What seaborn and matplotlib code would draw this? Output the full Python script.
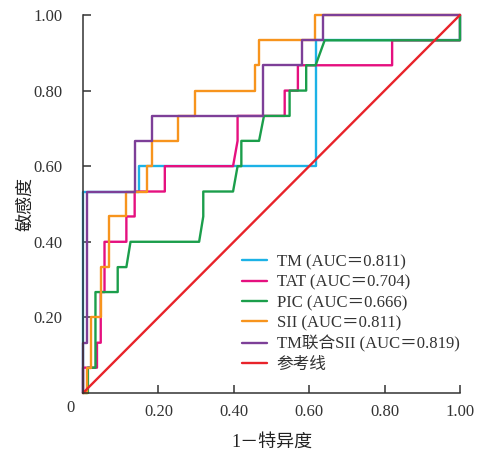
import matplotlib
matplotlib.use("Agg")
import matplotlib.pyplot as plt
import seaborn as sns

# ── Data ─────────────────────────────────────────────────────────────────────
TM_FPR = [0.0, 0.0, 0.149, 0.149, 0.617, 0.617, 1.0, 1.0]
TM_TPR = [0.0, 0.533, 0.533, 0.600, 0.600, 0.933, 0.933, 1.0]

TAT_FPR = [0.0, 0.0, 0.037, 0.037, 0.047, 0.047, 0.057, 0.057, 0.115, 0.115,
           0.137, 0.137, 0.217, 0.217, 0.398, 0.410, 0.410, 0.535, 0.535,
           0.570, 0.570, 0.820, 0.820, 1.0, 1.0]
TAT_TPR = [0.0, 0.067, 0.067, 0.133, 0.133, 0.267, 0.267, 0.400, 0.400, 0.467,
           0.467, 0.533, 0.533, 0.600, 0.600, 0.667, 0.733, 0.733, 0.800,
           0.800, 0.867, 0.867, 0.933, 0.933, 1.0]

PIC_FPR = [0.0, 0.013, 0.013, 0.033, 0.033, 0.092, 0.092, 0.115, 0.126, 0.308,
           0.319, 0.319, 0.398, 0.410, 0.420, 0.420, 0.467, 0.480, 0.548,
           0.548, 0.592, 0.592, 0.617, 0.641, 1.0, 1.0]
PIC_TPR = [0.0, 0.0, 0.067, 0.067, 0.267, 0.267, 0.333, 0.333, 0.400, 0.400,
           0.467, 0.533, 0.533, 0.600, 0.600, 0.667, 0.667, 0.733, 0.733,
           0.800, 0.800, 0.867, 0.867, 0.933, 0.933, 1.0]

SII_FPR = [0.0, 0.011, 0.011, 0.022, 0.022, 0.047, 0.047, 0.069, 0.069, 0.114,
           0.114, 0.170, 0.170, 0.184, 0.184, 0.251, 0.251, 0.297, 0.297,
           0.456, 0.456, 0.467, 0.467, 0.615, 0.615, 1.0]
SII_TPR = [0.0, 0.0, 0.067, 0.067, 0.200, 0.200, 0.333, 0.333, 0.467, 0.467,
           0.533, 0.533, 0.600, 0.600, 0.667, 0.667, 0.733, 0.733, 0.800,
           0.800, 0.867, 0.867, 0.933, 0.933, 1.0, 1.0]

COMB_FPR = [0.0, 0.0, 0.011, 0.011, 0.138, 0.138, 0.184, 0.184, 0.478, 0.478,
            0.581, 0.581, 0.637, 0.637, 1.0]
COMB_TPR = [0.0, 0.133, 0.133, 0.533, 0.533, 0.667, 0.667, 0.733, 0.733, 0.867,
            0.867, 0.933, 0.933, 1.0, 1.0]

REF_X = [0.0, 1.0]
REF_Y = [0.0, 1.0]

LABELS = ["TM (AUC＝0.811)", "TAT (AUC＝0.704)", "PIC (AUC＝0.666)",
          "SII (AUC＝0.811)", "TM联合SII (AUC＝0.819)", "参考线"]
COLORS = ["#1cb2e6", "#e5107f", "#1b9e4b", "#f7941d", "#7d3f98", "#e8232a"]
TICKS = [0.2, 0.4, 0.6, 0.8, 1.0]
TICK_LABELS = ["0.20", "0.40", "0.60", "0.80", "1.00"]

# ── Style ────────────────────────────────────────────────────────────────────
sns.set_theme(style="ticks")
FONTS = ["Liberation Serif", "Noto Sans CJK SC", "DejaVu Sans"]
plt.rcParams["font.family"] = FONTS
plt.rcParams["axes.unicode_minus"] = False

fig = plt.figure(figsize=(4.81, 4.5), dpi=100)
ax = fig.add_axes([0.1726, 0.1267, 0.7837, 0.84])

curves = [(TM_FPR, TM_TPR), (TAT_FPR, TAT_TPR), (PIC_FPR, PIC_TPR),
          (SII_FPR, SII_TPR), (COMB_FPR, COMB_TPR), (REF_X, REF_Y)]
for (xs, ys), lab, col in zip(curves, LABELS, COLORS):
    sns.lineplot(x=xs, y=ys, sort=False, estimator=None, color=col,
                 label=lab, lw=1.7, ax=ax, clip_on=False)

ax.set_xlim(0, 1)
ax.set_ylim(0, 1)
ax.set_xticks(TICKS)
ax.set_xticklabels(TICK_LABELS)
ax.set_yticks(TICKS)
ax.set_yticklabels(TICK_LABELS)
ax.tick_params(axis="both", direction="in", length=6, width=1.1,
               color="#333333", labelsize=12, labelcolor="#333333")
ax.tick_params(axis="x", pad=8)
ax.tick_params(axis="y", pad=15)
for side in ["top", "right"]:
    ax.spines[side].set_visible(False)
for side in ["left", "bottom"]:
    ax.spines[side].set_color("#333333")
    ax.spines[side].set_linewidth(1.1)

ax.text(-0.034, -0.04, "0", transform=ax.transAxes, ha="center", va="center",
        fontsize=12, color="#333333")
ax.set_xlabel("1－特异度", fontsize=13, color="#222222", labelpad=10)
ax.set_ylabel("敏感度", fontsize=13, color="#222222", labelpad=-1)

ax.legend(loc="upper left", bbox_to_anchor=(0.421, 0.367), frameon=False,
          fontsize=12, handlelength=1.5, handletextpad=0.6, labelspacing=0.26,
          borderpad=0, borderaxespad=0, labelcolor="#333333")

fig.savefig("out.png", dpi=100)
